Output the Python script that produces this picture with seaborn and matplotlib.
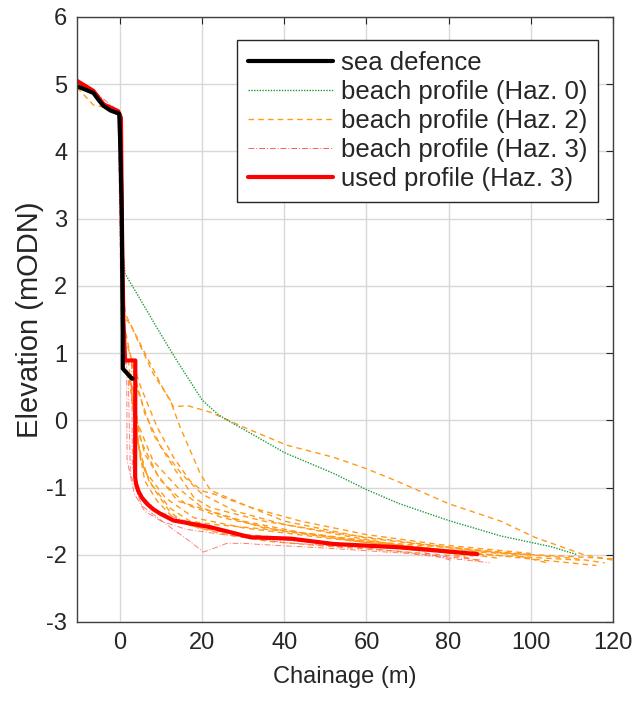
import matplotlib
matplotlib.use("Agg")
import matplotlib.pyplot as plt
import seaborn as sns
from matplotlib.lines import Line2D

# sea defence
sea_x = [-10.5, -6.5, -5.3, -4.1, -2.4, -0.2, 0.0, 0.4, 0.65, 0.65, 2.85, 3.1]
sea_y = [4.97, 4.87, 4.77, 4.68, 4.61, 4.56, 4.17, 3.08, 1.3, 0.77, 0.62, 0.62]

# beach profile Haz. 0
haz0_x = [0.9, 1.2, 4.9, 9.8, 13.8, 20.0, 24.0, 27.6, 32.0, 40.0, 52.0, 60.0, 68.0, 80.0, 92.7, 105.0, 111.4]
haz0_y = [2.4, 2.18, 1.8, 1.29, 0.89, 0.3, 0.08, -0.05, -0.2, -0.48, -0.79, -1.03, -1.24, -1.49, -1.72, -1.88, -2.0]

# beach profiles Haz. 2
haz2_profiles = [
    ([-10.5, -6.5, -4.0, -0.5, 0.2, 0.6, 1.2, 5.7, 9.8, 13.0, 16.3, 22.0, 30.0, 40.6, 52.0, 60.0, 68.0, 80.0, 92.7, 101.0, 113.0, 120.0],
     [4.95, 4.69, 4.66, 4.55, 4.2, 2.3, 1.59, 1.04, 0.55, 0.2, 0.22, 0.12, -0.1, -0.37, -0.55, -0.72, -0.92, -1.24, -1.5, -1.74, -2.0, -2.08]),
    ([1.4, 2.4, 8.1, 12.2, 14.6, 19.5, 22.0, 30.0, 40.0, 60.0, 85.0, 110.0, 118.0],
     [1.5, 1.44, 0.69, 0.3, -0.1, -0.79, -1.04, -1.25, -1.5, -1.75, -1.93, -2.05, -2.12]),
    ([1.4, 4.0, 8.0, 13.0, 18.0, 22.0, 35.0, 55.0, 75.0, 96.0, 104.0],
     [1.3, 0.5, -0.2, -0.7, -1.15, -1.3, -1.5, -1.7, -1.85, -2.0, -2.12]),
    ([2.0, 3.0, 6.0, 10.0, 16.0, 25.0, 40.0, 60.0, 80.0, 98.0, 116.0],
     [0.9, 0.2, -0.5, -0.9, -1.25, -1.45, -1.65, -1.82, -1.93, -2.05, -2.16]),
    ([2.5, 3.5, 6.0, 11.0, 18.0, 30.0, 50.0, 70.0, 90.0, 108.0, 120.0],
     [0.7, -0.1, -0.75, -1.15, -1.45, -1.6, -1.75, -1.88, -1.97, -2.02, -2.06]),
    ([2.2, 4.0, 8.0, 14.0, 20.0, 24.0, 35.0, 50.0, 65.0, 80.0, 92.0],
     [0.6, 0.0, -0.6, -1.0, -1.3, -1.4, -1.6, -1.72, -1.85, -1.95, -2.05]),
    ([3.0, 5.0, 9.0, 14.0, 22.0, 30.0, 45.0, 60.0, 75.0, 88.0],
     [0.5, -0.3, -0.8, -1.2, -1.35, -1.5, -1.68, -1.8, -1.9, -2.1]),
    ([3.2, 4.5, 7.0, 12.0, 17.0, 23.0, 32.0, 48.0, 64.0, 82.0, 100.0],
     [0.3, -0.4, -0.9, -1.3, -1.5, -1.55, -1.6, -1.7, -1.82, -1.9, -2.0]),
    ([2.8, 6.0, 10.0, 15.0, 20.0, 28.0, 40.0, 55.0, 70.0, 86.0],
     [0.85, 0.1, -0.4, -0.8, -1.1, -1.35, -1.55, -1.72, -1.88, -2.02]),
    ([3.5, 5.0, 8.0, 12.0, 16.0, 21.0, 27.0, 42.0, 58.0, 76.0, 95.0, 112.0],
     [0.2, -0.6, -1.0, -1.35, -1.55, -1.62, -1.68, -1.76, -1.86, -1.95, -2.02, -2.08]),
    ([1.8, 5.0, 9.0, 13.0, 17.0, 20.0, 23.0, 32.0, 44.0, 60.0, 78.0, 100.0],
     [1.1, 0.5, -0.1, -0.55, -0.9, -1.05, -1.1, -1.3, -1.5, -1.7, -1.85, -1.98]),
    ([4.0, 6.0, 9.0, 13.0, 19.0, 26.0, 36.0, 52.0, 68.0, 84.0],
     [-0.2, -0.9, -1.2, -1.45, -1.6, -1.7, -1.8, -1.88, -1.95, -2.03]),
]

# beach profiles Haz. 3
haz3_profiles = [
    ([-10.5, -6.0, -0.5, 0.0, 0.3, 1.2, 2.0, 2.5, 5.3, 12.2, 17.0, 20.3, 23.0, 26.0, 30.0, 35.0, 50.0, 70.0, 90.0],
     [5.05, 4.88, 4.6, 2.6, 1.4, 0.9, 0.6, -0.8, -1.27, -1.59, -1.8, -1.96, -1.9, -1.83, -1.83, -1.85, -1.9, -1.98, -2.12]),
    ([1.6, 1.7, 3.5, 6.0, 10.0, 16.0, 25.0, 40.0, 60.0, 75.0, 88.0],
     [0.92, -0.6, -1.1, -1.35, -1.5, -1.62, -1.7, -1.82, -1.9, -2.0, -2.08]),
    ([2.8, 3.0, 5.0, 9.0, 15.0, 22.0, 35.0, 55.0, 72.0, 80.5],
     [0.85, -0.7, -1.1, -1.35, -1.48, -1.58, -1.76, -1.85, -1.93, -2.08]),
]

# used profile Haz. 3
used_x = [-10.5, -6.5, -4.0, -0.5, 0.2, 0.5, 0.8, 1.2, 3.7, 3.66, 3.9, 4.5, 5.3, 6.5, 8.0, 9.8, 13.0, 22.0, 31.7, 41.5, 52.0, 68.3, 87.0]
used_y = [5.05, 4.9, 4.7, 4.6, 4.5, 2.6, 1.5, 0.89, 0.89, -0.84, -0.95, -1.06, -1.15, -1.24, -1.32, -1.39, -1.49, -1.59, -1.74, -1.76, -1.84, -1.89, -1.99]

c_haz0 = "#1f9a3a"
c_haz2 = "#ff9a1a"
c_haz3 = "#ff5a5a"

sns.set_style("white")
plt.rcParams['font.family'] = ['Liberation Sans', 'DejaVu Sans']
plt.rcParams['axes.unicode_minus'] = False

fig = plt.figure(figsize=(6.39, 7.04), dpi=100)
ax = fig.add_axes([0.1205, 0.1165, 0.8385, 0.8594])

for px, py in haz2_profiles:
    sns.lineplot(x=px, y=py, sort=False, ax=ax, color=c_haz2, linewidth=1.0,
                 linestyle=(0, (4, 3)), estimator=None)
for px, py in haz3_profiles:
    sns.lineplot(x=px, y=py, sort=False, ax=ax, color=c_haz3, linewidth=0.7,
                 linestyle=(0, (6, 2, 1, 2)), estimator=None, alpha=0.8)
sns.lineplot(x=haz0_x, y=haz0_y, sort=False, ax=ax, color=c_haz0, linewidth=1.0,
             linestyle=(0, (1, 1)), estimator=None)
sns.lineplot(x=used_x, y=used_y, sort=False, ax=ax, color="red", linewidth=3.0, estimator=None)
sns.lineplot(x=sea_x, y=sea_y, sort=False, ax=ax, color="black", linewidth=3.0, estimator=None)

ax.set_xlim(-10.5, 120)
ax.set_ylim(-3, 6)
ax.set_xticks([0, 20, 40, 60, 80, 100, 120])
ax.set_yticks(range(-3, 7))
ax.grid(True, color="#d8d8d8", linewidth=1.0)
ax.tick_params(direction="in", top=True, right=True, length=5, width=0.8,
               labelsize=17, colors="#262626", pad=7)
for s in ax.spines.values():
    s.set_color("#404040")
    s.set_linewidth(1.0)
    s.set_visible(True)
ax.set_xlabel("Chainage (m)", fontsize=17, color="#262626", labelpad=9)
ax.set_ylabel("Elevation (mODN)", fontsize=21, color="#262626", labelpad=2)

handles = [
    Line2D([], [], color="black", linewidth=3.0),
    Line2D([], [], color=c_haz0, linewidth=1.0, linestyle=(0, (1, 1))),
    Line2D([], [], color=c_haz2, linewidth=1.0, linestyle=(0, (4, 3))),
    Line2D([], [], color=c_haz3, linewidth=0.7, linestyle=(0, (6, 2, 1, 2))),
    Line2D([], [], color="red", linewidth=3.0),
]
labels = ["sea defence", "beach profile (Haz. 0)", "beach profile (Haz. 2)",
          "beach profile (Haz. 3)", "used profile (Haz. 3)"]
leg = ax.legend(handles, labels, loc="upper right", bbox_to_anchor=(0.972, 0.962),
                borderaxespad=0, fontsize=18.5, handlelength=3.3, handletextpad=0.3,
                labelspacing=0.2, borderpad=0.42, fancybox=False, framealpha=1)
leg.get_frame().set_edgecolor("#262626")
leg.get_frame().set_linewidth(1.0)

fig.savefig("out.png", dpi=100)
